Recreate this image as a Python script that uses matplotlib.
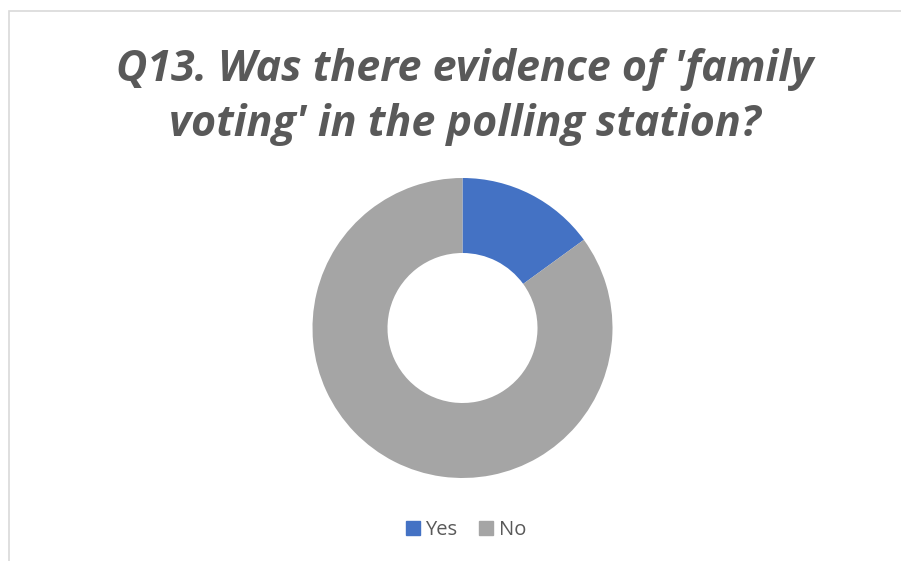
import matplotlib.pyplot as plt
from matplotlib.patches import Rectangle
from matplotlib.lines import Line2D

# donut data
labels = ["Yes", "No"]
shares = [15, 85]
colors = ["#4472C4", "#A5A5A5"]
title = "Q13. Was there evidence of 'family\nvoting' in the polling station?"

W, H = 901, 561
fig = plt.figure(figsize=(W / 100, H / 100), dpi=100)

# light chart frame (only top/left visible in the crop)
fig.patches.append(Rectangle((8.5 / W, -0.1), 1.2, (H - 11) / H + 0.1,
                             transform=fig.transFigure, fill=False,
                             edgecolor="#D9D9D9", linewidth=1.2))

# donut axes: centre (462, 328), radius 150 px
cx, cy, r = 462.5, 328, 150
ax = fig.add_axes([(cx - r) / W, (H - cy - r) / H, 2 * r / W, 2 * r / H])
ax.pie(shares, colors=colors, startangle=90, counterclock=False, radius=1,
       wedgeprops=dict(width=0.5, edgecolor="white", linewidth=0))
ax.set_xlim(-1, 1)
ax.set_ylim(-1, 1)
ax.set_aspect("equal")
ax.axis("off")

fig.text(465 / W, 1 - 97 / H, title, ha="center", va="center",
         fontsize=31, fontweight="bold", fontstyle="italic",
         family="Open Sans", color="#595959", linespacing=1.35)

handles = [Line2D([], [], marker="s", linestyle="none", markersize=10,
                  markerfacecolor=c, markeredgecolor=c) for c in colors]
fig.legend(handles, labels, loc="center", bbox_to_anchor=(466 / W, 1 - 530 / H),
           ncol=2, frameon=False, handlelength=0.7, handletextpad=0.25,
           columnspacing=1.1, labelcolor="#595959",
           prop={"family": "Open Sans", "size": 14.5})

fig.savefig("out.png", dpi=100)
